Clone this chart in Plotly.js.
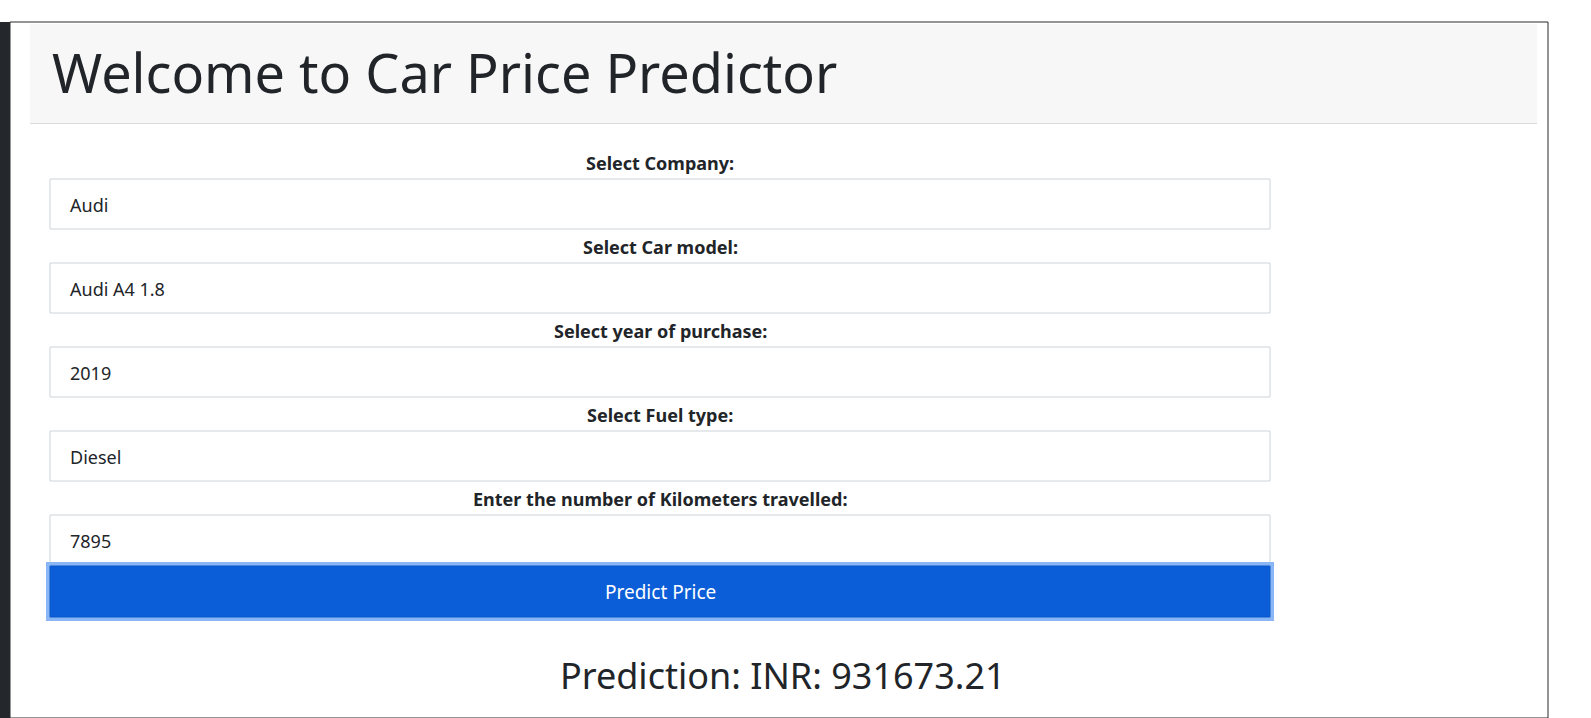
<!DOCTYPE html>
<html>
<head>
<meta charset="utf-8">
<script src="https://cdn.plot.ly/plotly-3.0.1.min.js"></script>
<style>html,body{margin:0;padding:0;background:#fff;overflow:hidden}</style>
</head>
<body>
<div id="chart" style="width:1591px;height:718px"></div>
<script>
// form content
const pageTitle = 'Welcome to Car Price Predictor';
const fieldLabels = ['Select Company:', 'Select Car model:', 'Select year of purchase:', 'Select Fuel type:', 'Enter the number of Kilometers travelled:'];
const fieldValues = ['Audi', 'Audi A4 1.8', '2019', 'Diesel', '7895'];
const buttonText = 'Predict Price';
const predictionText = 'Prediction: INR: 931673.21';

const W = 1591, H = 718;
const font = 'Noto Sans, Lato, sans-serif';
const shapes = [];
const annotations = [];

function rect(x0, y0, x1, y1, fill, lineColor, lineWidth) {
    shapes.push({type: 'rect', xref: 'x', yref: 'y', x0: x0, y0: y0, x1: x1, y1: y1,
        fillcolor: fill, line: {color: lineColor || fill, width: lineWidth || 0}, layer: 'below'});
}
function text(x, y, t, size, color, anchor, bold) {
    annotations.push({x: x, y: y, xref: 'x', yref: 'y', text: bold ? '<b>' + t + '</b>' : t,
        showarrow: false, xanchor: anchor, yanchor: 'middle',
        font: {family: font, size: size, color: color}});
}

// dark left strip and card frame
rect(0, 22, 10, H, '#24272b');
rect(10, 22, 1548, H, '#ffffff', '#2b2b2b', 1);
rect(30, 24, 1537, 123, '#f7f7f7', '#f7f7f7', 0);
shapes.push({type: 'line', x0: 30, x1: 1537, y0: 123.5, y1: 123.5, line: {color: '#dcdcdc', width: 1}});
text(50, 72, pageTitle, 54, '#212529', 'left', false);

fieldLabels.forEach((label, i) => {
    const top = 179 + i * 84;
    text(660, top - 16, label, 18, '#212529', 'center', true);
    rect(50, top, 1270, top + 50, '#ffffff', '#ced4da', 1);
    text(68, top + 26, fieldValues[i], 18, '#212529', 'left', false);
});

rect(46, 562, 1274, 621, '#8bb6f5', '#8bb6f5', 0);
rect(50, 566, 1270, 617, '#0b5ed7', '#0a58ca', 1);
text(660, 592, buttonText, 19, '#ffffff', 'center', false);

text(783, 675, predictionText, 36, '#212529', 'center', false);

Plotly.newPlot('chart', [], {
    width: W, height: H,
    margin: {l: 0, r: 0, t: 0, b: 0},
    paper_bgcolor: '#ffffff', plot_bgcolor: '#ffffff',
    xaxis: {range: [0, W], visible: false, fixedrange: true},
    yaxis: {range: [H, 0], visible: false, fixedrange: true},
    shapes: shapes, annotations: annotations, showlegend: false
}, {displayModeBar: false, staticPlot: true});
</script>
</body>
</html>
